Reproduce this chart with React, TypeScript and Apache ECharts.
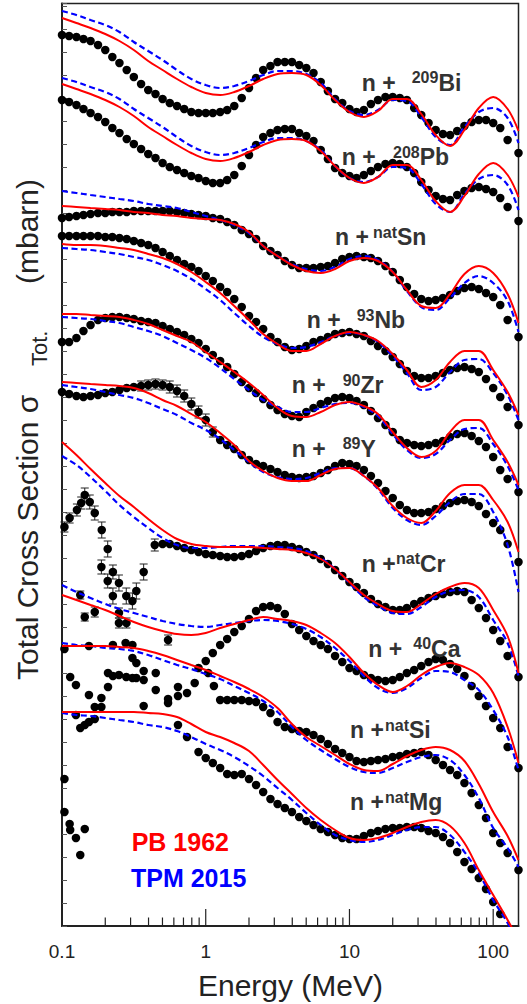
import React, { useEffect, useRef } from "react";
import * as echarts from "echarts";

// ---------- DATA ----------
// Energy grid (MeV) of the measured points
const DOT_E = [0.1, 0.112, 0.126, 0.141, 0.158, 0.178, 0.2, 0.224, 0.251, 0.282, 0.316, 0.355, 0.398, 0.447, 0.501, 0.562, 0.631, 0.708, 0.794, 0.891,
  1, 1.12, 1.26, 1.41, 1.58, 1.78, 2, 2.24, 2.51, 2.82, 3.16, 3.55, 3.98, 4.47, 5.01, 5.62, 6.31, 7.08, 7.94, 8.91,
  10, 11.2, 12.6, 14.1, 15.8, 17.8, 20, 22.4, 25.1, 28.2, 31.6, 35.5, 39.8, 44.7, 50.1, 56.2, 63.1, 70.8, 79.4, 89.1,
  100, 112, 126, 150];
// Energy grid (MeV) of the model curves
const CURVE_E = [0.1, 0.126, 0.158, 0.2, 0.251, 0.316, 0.398, 0.501, 0.631, 0.794,
  1, 1.26, 1.58, 2, 2.51, 3.16, 3.98, 5.01, 6.31, 7.94,
  10, 12.6, 15.8, 20, 25.1, 31.6, 39.8, 50.1, 63.1, 79.4, 100, 126, 150];

// cross sections in offset display units (y axis has no scale)
const BI_DOTS = [891, 890, 889, 887, 885, 881, 876, 869, 863, 856, 849, 842, 836, 832, 827, 823, 820, 817, 814, 813, 813, 813, 814, 816, 820, 828, 838, 848, 856, 860, 864, 864, 864, 861, 858, 853, 844, 835, 827, 823, 817, 814, 816, 822, 826, 829, 829, 828, 826, 818, 811, 803, 796, 792, 791, 795, 800, 804, 806, 806, 803, 798, 786, 773];
const BI_PB = [908, 903, 898, 892, 885, 876, 865, 856, 847, 839, 833, 831, 834, 840, 847, 852, 853, 851, 841, 826, 814, 809, 815, 827, 827, 812, 791, 780, 796, 818, 829, 817, 795];
const BI_TPM = [915, 911, 906, 901, 894, 884, 875, 866, 856, 847, 841, 838, 840, 845, 851, 855, 855, 852, 843, 827, 815, 811, 816, 826, 825, 809, 789, 781, 799, 814, 818, 808, 783];

const PB_DOTS = [826, 824, 821, 817, 813, 809, 804, 798, 793, 787, 782, 777, 772, 768, 763, 759, 756, 753, 750, 748, 745, 743, 743, 746, 751, 760, 771, 781, 789, 793, 796, 797, 797, 793, 790, 785, 776, 767, 758, 753, 750, 748, 751, 755, 759, 762, 763, 762, 759, 753, 744, 736, 730, 727, 726, 731, 735, 738, 739, 737, 734, 728, 719, 705];
const PB_PB = [842, 837, 832, 826, 819, 810, 799, 790, 781, 773, 767, 765, 768, 774, 781, 786, 787, 785, 775, 760, 748, 743, 749, 761, 761, 746, 725, 714, 730, 752, 763, 751, 729];
const PB_TPM = [848, 844, 839, 834, 827, 817, 808, 799, 789, 780, 774, 771, 773, 778, 784, 788, 788, 785, 776, 760, 748, 744, 749, 759, 758, 742, 722, 714, 732, 747, 751, 741, 716];

const SN_DOTS = [708, 709, 710, 711, 712, 713, 713, 714, 714, 714, 715, 715, 715, 715, 715, 715, 714, 713, 712, 711, 710, 708, 707, 704, 701, 696, 692, 687, 680, 675, 671, 665, 661, 658, 658, 658, 659, 660, 663, 667, 669, 670, 669, 668, 665, 660, 654, 646, 639, 632, 627, 625, 626, 628, 631, 635, 638, 639, 637, 633, 629, 621, 606, 589];
const SN_PB = [720, 719, 718, 717, 716, 714, 713, 711, 710, 708, 707, 706, 702, 694, 680, 670, 661, 655, 653, 657, 665, 668, 665, 654, 636, 620, 618, 632, 652, 660, 653, 632, 603];
const SN_TPM = [735, 733, 731, 729, 727, 725, 722, 720, 718, 714, 710, 706, 701, 693, 680, 670, 662, 657, 655, 659, 667, 670, 666, 654, 635, 619, 616, 628, 643, 650, 643, 625, 594];

const NB_DOTS = [690, 690, 690, 690, 690, 690, 689, 689, 688, 687, 685, 683, 681, 678, 674, 670, 666, 662, 659, 655, 650, 645, 639, 634, 627, 619, 610, 604, 597, 589, 584, 579, 576, 577, 580, 584, 586, 589, 592, 593, 594, 592, 590, 585, 580, 575, 569, 562, 555, 550, 548, 548, 550, 553, 556, 558, 559, 557, 554, 547, 538, 529, 519, 501];
const NB_PB = [682, 681, 681, 680, 678, 676, 672, 668, 662, 654, 644, 633, 620, 606, 592, 582, 575, 575, 582, 590, 594, 591, 585, 572, 556, 539, 546, 564, 575, 575, 556, 534, 511];
const NB_TPM = [678, 677, 676, 674, 672, 669, 666, 661, 655, 647, 637, 626, 613, 600, 589, 582, 578, 579, 584, 590, 593, 591, 584, 570, 553, 536, 539, 554, 566, 567, 553, 531, 506];

const ZR_DOTS = [584, 584, 588, 595, 601, 606, 608, 609, 609, 608, 607, 605, 604, 603, 600, 597, 594, 591, 587, 583, 577, 571, 565, 559, 552, 544, 538, 533, 527, 521, 516, 512, 510, 509, 514, 518, 522, 525, 528, 529, 528, 525, 521, 515, 508, 501, 494, 486, 483, 481, 480, 481, 483, 485, 489, 492, 493, 490, 485, 479, 469, 456, 447, 434];
const ZR_PB = [612, 612, 611, 610, 609, 606, 602, 596, 590, 584, 574, 564, 554, 543, 531, 518, 510, 509, 514, 521, 524, 520, 512, 494, 478, 469, 475, 494, 506, 506, 486, 464, 441];
const ZR_TPM = [609, 608, 607, 605, 603, 599, 595, 590, 583, 576, 568, 558, 547, 536, 526, 519, 514, 514, 518, 522, 523, 519, 510, 492, 476, 468, 472, 486, 497, 498, 482, 460, 436];

const Y_DOTS = [534, 532, 530, 529, 530, 531, 533, 534, 536, 538, 539, 540, 541, 542, 541, 539, 535, 530, 522, 514, 506, 494, 486, 481, 477, 471, 466, 462, 460, 457, 454, 451, 449, 448, 449, 450, 453, 456, 460, 463, 462, 460, 456, 450, 443, 435, 428, 421, 416, 413, 413, 414, 417, 420, 423, 425, 426, 424, 420, 412, 403, 396, 382, 364];
const Y_PB = [544, 543, 542, 541, 540, 538, 533, 526, 520, 512, 504, 493, 481, 465, 455, 448, 445, 445, 451, 457, 458, 450, 438, 420, 408, 403, 415, 433, 441, 441, 426, 404, 374];
const Y_TPM = [541, 539, 537, 534, 531, 528, 523, 517, 511, 503, 496, 487, 476, 464, 454, 449, 447, 448, 453, 458, 458, 450, 437, 418, 406, 401, 410, 424, 432, 432, 414, 381, 334];

const CR_DOTS = [null, null, null, null, null, null, null, null, null, null, null, null, null, null,
  382, 382, 380, 378, 376, 374, 372, 371, 370, 369, 369, 370, 372, 375, 378, 380, 381, 381, 379, 377, 374, 371, 367, 362, 356, 350, 344, 339, 333, 327, 322, 319, 316, 316, 318, 322, 325, 328, 330, 332, 334, 335, 334, 326, 318, 308, 296, 285, 270, 249];
const CR_PB = [484, 471, 457, 443, 430, 419, 407, 396, 387, 382, 380, 379, 379, 379, 378, 377, 376, 373, 367, 357, 344, 331, 322, 315, 314, 322, 332, 339, 343, 338, 316, 290, 253];
const CR_TPM = [470, 461, 449, 435, 421, 409, 398, 388, 381, 378, 378, 379, 380, 380, 380, 379, 378, 375, 368, 357, 343, 329, 320, 313, 312, 319, 329, 335, 336, 329, 306, 283, 250];
// [E, value, error]
const CR_LOW = [[0.104, 399, 5], [0.113, 408, 5], [0.127, 416, 6], [0.136, 423, 6], [0.144, 431, 7], [0.156, 424, 7], [0.169, 413, 7], [0.189, 396, 8], [0.208, 377, 8], [0.188, 359, 7], [0.226, 354, 7], [0.208, 345, 7], [0.249, 343, 8], [0.226, 330, 8], [0.28, 330, 8], [0.309, 325, 8], [0.329, 335, 8], [0.37, 354, 8], [0.442, 381, 6]];

const CA_DOTS = [null, null, null, null, null, null, null, null, null, null, null, null, null, null, null, null, null, null, null,
  258, 265, 273, 281, 287, 294, 300, 307, 315, 319, 320, 318, 312, 302, 296, 290, 285, 281, 277, 270, 264, 258, 255, 251, 248, 246, 245, 246, 249, 253, 256, 260, 264, 267, 266, 262, 257, 250, 240, 230, 220, 208, 198, 179, 158];
const CA_PB = [331, 326, 321, 316, 310, 304, 299, 295, 292, 291, 293, 298, 302, 306, 309, 307, 305, 301, 293, 283, 269, 253, 241, 234, 240, 251, 259, 263, 259, 251, 233, 199, 163];
const CA_TPM = [341, 334, 328, 322, 317, 313, 309, 305, 302, 300, 299, 301, 303, 305, 306, 305, 302, 297, 289, 278, 265, 250, 238, 233, 238, 248, 255, 254, 246, 236, 216, 189, 156];
const CA_LOW = [[0.134, 331, 4], [0.144, 309, 4], [0.169, 314, 5], [0.249, 313, 5], [0.249, 303, 5], [0.281, 303, 5], [0.547, 286, 5]];

const SI_DOTS = [null, null, null, null, null, null, null, null, null, null, null, null, null, null, null, null, null, null, null, null, null, null,
  226, 226, 226, 226, 225, 224, 219, 213, 204, 199, 197, 195, 194, 191, 187, 182, 177, 173, 169, 165, 164, 165, 166, 167, 169, 170, 172, 173, 174, 171, 166, 161, 156, 151, 143, 133, 121, 108, 93, 83, 73, 56];
const SI_PB = [280, 280, 280, 280, 279, 278, 275, 271, 266, 261, 256, 250, 244, 237, 229, 218, 202, 189, 180, 171, 162, 156, 155, 162, 170, 176, 179, 176, 165, 142, 114, 90, 66];
const SI_TPM = [283, 281, 280, 278, 277, 275, 271, 266, 261, 257, 252, 247, 240, 233, 225, 214, 199, 186, 176, 167, 159, 154, 153, 158, 164, 169, 171, 166, 151, 128, 98, 78, 59];
const SI_LOW = [[0.104, 277], [0.114, 249], [0.125, 241], [0.154, 280], [0.154, 231], [0.169, 219], [0.188, 228], [0.188, 219], [0.209, 253], [0.209, 239], [0.226, 281], [0.226, 250], [0.249, 251], [0.277, 283], [0.28, 249], [0.309, 281], [0.309, 268], [0.309, 248], [0.329, 263], [0.329, 248], [0.37, 246], [0.37, 255], [0.37, 220], [0.449, 253], [0.449, 236], [0.547, 227], [0.547, 223], [0.641, 239], [0.641, 230], [0.741, 233], [0.838, 243], [1.04, 253], [1.14, 240]];

const MG_DOTS = [null, null, null, null, null, null, null, null, null, null, null, null, null, null, null, null, null, null, null,
  174, 168, 163, 158, 152, 151, 152, 147, 141, 134, 127, 122, 118, 114, 109, 105, 101, 97, 94, 91, 88, 87, 87, 90, 93, 95, 97, 98, 98, 99, 99, 98, 95, 93, 89, 83, 74, 64, 57, 48, 37, 24, 12, null, null];
const MG_PB = [214, 214, 214, 214, 214, 214, 213, 212, 209, 202, 194, 189, 183, 175, 161, 146, 132, 118, 106, 96, 88, 86, 88, 93, 99, 104, 106, 100, 83, 56, 31, 6, -14];
const MG_TPM = [213, 211, 210, 208, 206, 204, 201, 199, 195, 189, 182, 176, 169, 160, 150, 138, 126, 113, 101, 91, 86, 84, 86, 91, 96, 99, 99, 91, 74, 53, 26, 3, -19];
const MG_LOW = [[0.104, 147], [0.104, 114], [0.113, 102], [0.114, 96], [0.125, 88], [0.134, 71], [0.144, 97], [0.125, 211], [0.134, 198], [0.144, 201], [0.154, 204], [0.169, 207], [0.641, 201], [0.741, 189]];

const Y_ERR = [[0.355, 540, 5], [0.398, 541, 5], [0.447, 542, 5], [0.501, 541, 5], [0.562, 539, 6], [0.631, 535, 6], [0.708, 530, 6], [0.794, 522, 6], [0.891, 514, 6], [1, 506, 6], [1.12, 494, 5]];

const NUCLIDE_EL = ["Bi", "Pb", "Sn", "Nb", "Zr", "Y", "Cr", "Ca", "Si", "Mg"];
const NUCLIDE_A = ["209", "208", "nat", "93", "90", "89", "nat", "40", "nat", "nat"];
const SERIES_NAMES = ["PB 1962", "TPM 2015"];

const X_MAJOR = [1, 10, 100];
const X_MINOR = [0.2, 0.3, 0.4, 0.5, 0.6, 0.7, 0.8, 0.9, 2, 3, 4, 5, 6, 7, 8, 9, 20, 30, 40, 50, 60, 70, 80, 90];
const X_TICK_VALUES = [0.1, 1, 10, 100];
const X_TICK_LABELS = ["0.1", "1", "10", "100"];

// ---------- LAYOUT (not data) ----------
const LABEL_POS = [
  { x: 361.7, base: 90.7, supX: 411.7 },
  { x: 341.7, base: 165, supX: 393 },
  { x: 335, base: 245, supX: 373 },
  { x: 306.7, base: 328.3, supX: 356.7 },
  { x: 291.7, base: 393.3, supX: 342.7 },
  { x: 291.7, base: 456.7, supX: 342.7 },
  { x: 361.7, base: 571.7, supX: 396 },
  { x: 368.3, base: 656.7, supX: 413.3 },
  { x: 350, base: 738.3, supX: 385 },
  { x: 350, base: 810, supX: 385 },
];

const FONT = '"Liberation Sans", Arial, Helvetica, sans-serif';
const RED = "#ff0000";
const BLUE = "#0000ff";

const NUCLEI = [
  { dots: BI_DOTS, pb: BI_PB, tpm: BI_TPM },
  { dots: PB_DOTS, pb: PB_PB, tpm: PB_TPM },
  { dots: SN_DOTS, pb: SN_PB, tpm: SN_TPM },
  { dots: NB_DOTS, pb: NB_PB, tpm: NB_TPM },
  { dots: ZR_DOTS, pb: ZR_PB, tpm: ZR_TPM },
  { dots: Y_DOTS, pb: Y_PB, tpm: Y_TPM },
  { dots: CR_DOTS, pb: CR_PB, tpm: CR_TPM },
  { dots: CA_DOTS, pb: CA_PB, tpm: CA_TPM },
  { dots: SI_DOTS, pb: SI_PB, tpm: SI_TPM },
  { dots: MG_DOTS, pb: MG_PB, tpm: MG_TPM },
];

function zip(xs: number[], ys: (number | null)[]) {
  const out: number[][] = [];
  ys.forEach((y, i) => {
    if (y !== null && y !== undefined) out.push([xs[i], y]);
  });
  return out;
}

function buildOption() {
  const series: any[] = [];
  const dotStyle = { color: "#000", opacity: 1 };
  NUCLEI.forEach((n, i) => {
    series.push({
      type: "scatter", name: NUCLIDE_EL[i] + " data", data: zip(DOT_E, n.dots),
      symbol: "circle", symbolSize: 8.5, itemStyle: dotStyle, z: 2, silent: true,
    });
    series.push({
      type: "line", name: SERIES_NAMES[1], data: zip(CURVE_E, n.tpm), showSymbol: false, smooth: 0.35,
      lineStyle: { color: BLUE, width: 2.2, type: [6, 3.5] }, z: 3, silent: true, clip: true,
    });
    series.push({
      type: "line", name: SERIES_NAMES[0], data: zip(CURVE_E, n.pb), showSymbol: false, smooth: 0.35,
      lineStyle: { color: RED, width: 2 }, z: 4, silent: true, clip: true,
    });
  });
  [CR_LOW, CA_LOW, SI_LOW, MG_LOW].forEach((lst) => {
    series.push({
      type: "scatter", data: lst.map((p) => [p[0], p[1]]), symbol: "circle", symbolSize: 8.5,
      itemStyle: dotStyle, z: 2, silent: true,
    });
  });
  const errData = [...CR_LOW, ...CA_LOW, ...Y_ERR];
  series.push({
    type: "custom", data: errData, z: 1, silent: true, encode: { x: 0, y: 1 },
    renderItem: (params: any, api: any) => {
      const e = api.value(0), v = api.value(1), err = api.value(2);
      const t = api.coord([e, v + err]);
      const b = api.coord([e, v - err]);
      const st = { stroke: "#222", lineWidth: 1 };
      return {
        type: "group",
        children: [
          { type: "line", shape: { x1: t[0], y1: t[1], x2: b[0], y2: b[1] }, style: st },
          { type: "line", shape: { x1: t[0] - 4, y1: t[1], x2: t[0] + 4, y2: t[1] }, style: st },
          { type: "line", shape: { x1: b[0] - 4, y1: b[1], x2: b[0] + 4, y2: b[1] }, style: st },
        ],
      };
    },
  });
  const tickData = [...X_MAJOR.map((e) => [e, 0, 1]), ...X_MINOR.map((e) => [e, 0, 0])];
  series.push({
    type: "custom", data: tickData, z: 10, silent: true, clip: false, encode: { x: 0, y: 1 },
    renderItem: (params: any, api: any) => {
      const p = api.coord([api.value(0), 0]);
      const len = api.value(2) === 1 ? 17 : 8.5;
      return { type: "line", shape: { x1: p[0], y1: p[1], x2: p[0], y2: p[1] - len }, style: { stroke: "#222", lineWidth: 1.2 } };
    },
  });

  const mStyle = { fontSize: 23, fontWeight: "bold", fontFamily: FONT, lineHeight: 26, fill: "#333" };
  const pStyle = { fontSize: 16, fontWeight: "bold", fontFamily: FONT, lineHeight: 14, verticalAlign: "top", fill: "#333" };
  const graphics: any[] = [];
  NUCLIDE_EL.forEach((el, i) => {
    const p = LABEL_POS[i];
    graphics.push({ type: "text", x: p.x, y: p.base - 21, z: 100, silent: true, style: { text: "{m|n +}", rich: { m: mStyle }, align: "left", verticalAlign: "top" } });
    graphics.push({ type: "text", x: p.supX, y: p.base - 21, z: 100, silent: true, style: { text: `{p|${NUCLIDE_A[i]}}{m|${el}}`, rich: { m: mStyle, p: pStyle }, align: "left", verticalAlign: "top" } });
  });
  graphics.push({ type: "text", x: 131.7, y: 828, z: 100, style: { text: `{a|${SERIES_NAMES[0]}}`, rich: { a: { fontSize: 25, fontWeight: "bold", fontFamily: FONT, lineHeight: 28, fill: RED } }, align: "left", verticalAlign: "top" } });
  graphics.push({ type: "text", x: 131, y: 864, z: 100, style: { text: `{a|${SERIES_NAMES[1]}}`, rich: { a: { fontSize: 25, fontWeight: "bold", fontFamily: FONT, lineHeight: 28, fill: BLUE } }, align: "left", verticalAlign: "top" } });
  // axis titles
  graphics.push({ type: "text", x: 290.5, y: 985, style: { text: "Energy (MeV)", fontSize: 30, fontFamily: FONT, fill: "#222", align: "center", verticalAlign: "middle" } });
  graphics.push({ type: "text", x: 27, y: 680, rotation: Math.PI / 2, style: { text: "Total Cross Section σ", fontSize: 30, fontFamily: FONT, fill: "#222", align: "left", verticalAlign: "middle" } });
  graphics.push({ type: "text", x: 39.5, y: 366, rotation: Math.PI / 2, style: { text: "Tot.", fontSize: 22, fontFamily: FONT, fill: "#222", align: "left", verticalAlign: "middle" } });
  graphics.push({ type: "text", x: 27, y: 284, rotation: Math.PI / 2, style: { text: "(mbarn)", fontSize: 30, fontFamily: FONT, fill: "#222", align: "left", verticalAlign: "middle" } });

  return {
    animation: false,
    backgroundColor: "#fff",
    grid: { left: 62, right: 8.5, top: 3.5, bottom: 78, show: true, borderColor: "#222", borderWidth: 1.5, containLabel: false },
    xAxis: {
      type: "log", logBase: 10, min: 0.1, max: 150,
      axisLine: { show: true, onZero: false, lineStyle: { color: "#222", width: 2 } },
      axisTick: { show: false }, minorTick: { show: false }, splitLine: { show: false }, minorSplitLine: { show: false },
      axisLabel: {
        show: true, color: "#222", fontSize: 19, fontFamily: FONT, margin: 16, showMaxLabel: false,
        formatter: (v: number) => {
          const i = X_TICK_VALUES.findIndex((t) => Math.abs(Math.log10(v / t)) < 0.01);
          return i >= 0 ? X_TICK_LABELS[i] : "";
        },
      },
    },
    yAxis: {
      type: "value", min: 0, max: 922.5, interval: 23,
      axisLine: { show: true, lineStyle: { color: "#222", width: 2 } },
      axisTick: { show: true, inside: true, length: 5, lineStyle: { color: "#555", width: 1 } },
      axisLabel: { show: false }, splitLine: { show: false },
    },
    graphic: graphics,
    series,
  };
}

export default function App() {
  const ref = useRef<HTMLDivElement>(null);
  useEffect(() => {
    const chart = echarts.init(ref.current!, null, { renderer: "svg" });
    chart.setOption(buildOption() as any);
    return () => chart.dispose();
  }, []);
  return <div ref={ref} style={{ position: "absolute", left: 0, top: 0, width: 527, height: 1004 }} />;
}
